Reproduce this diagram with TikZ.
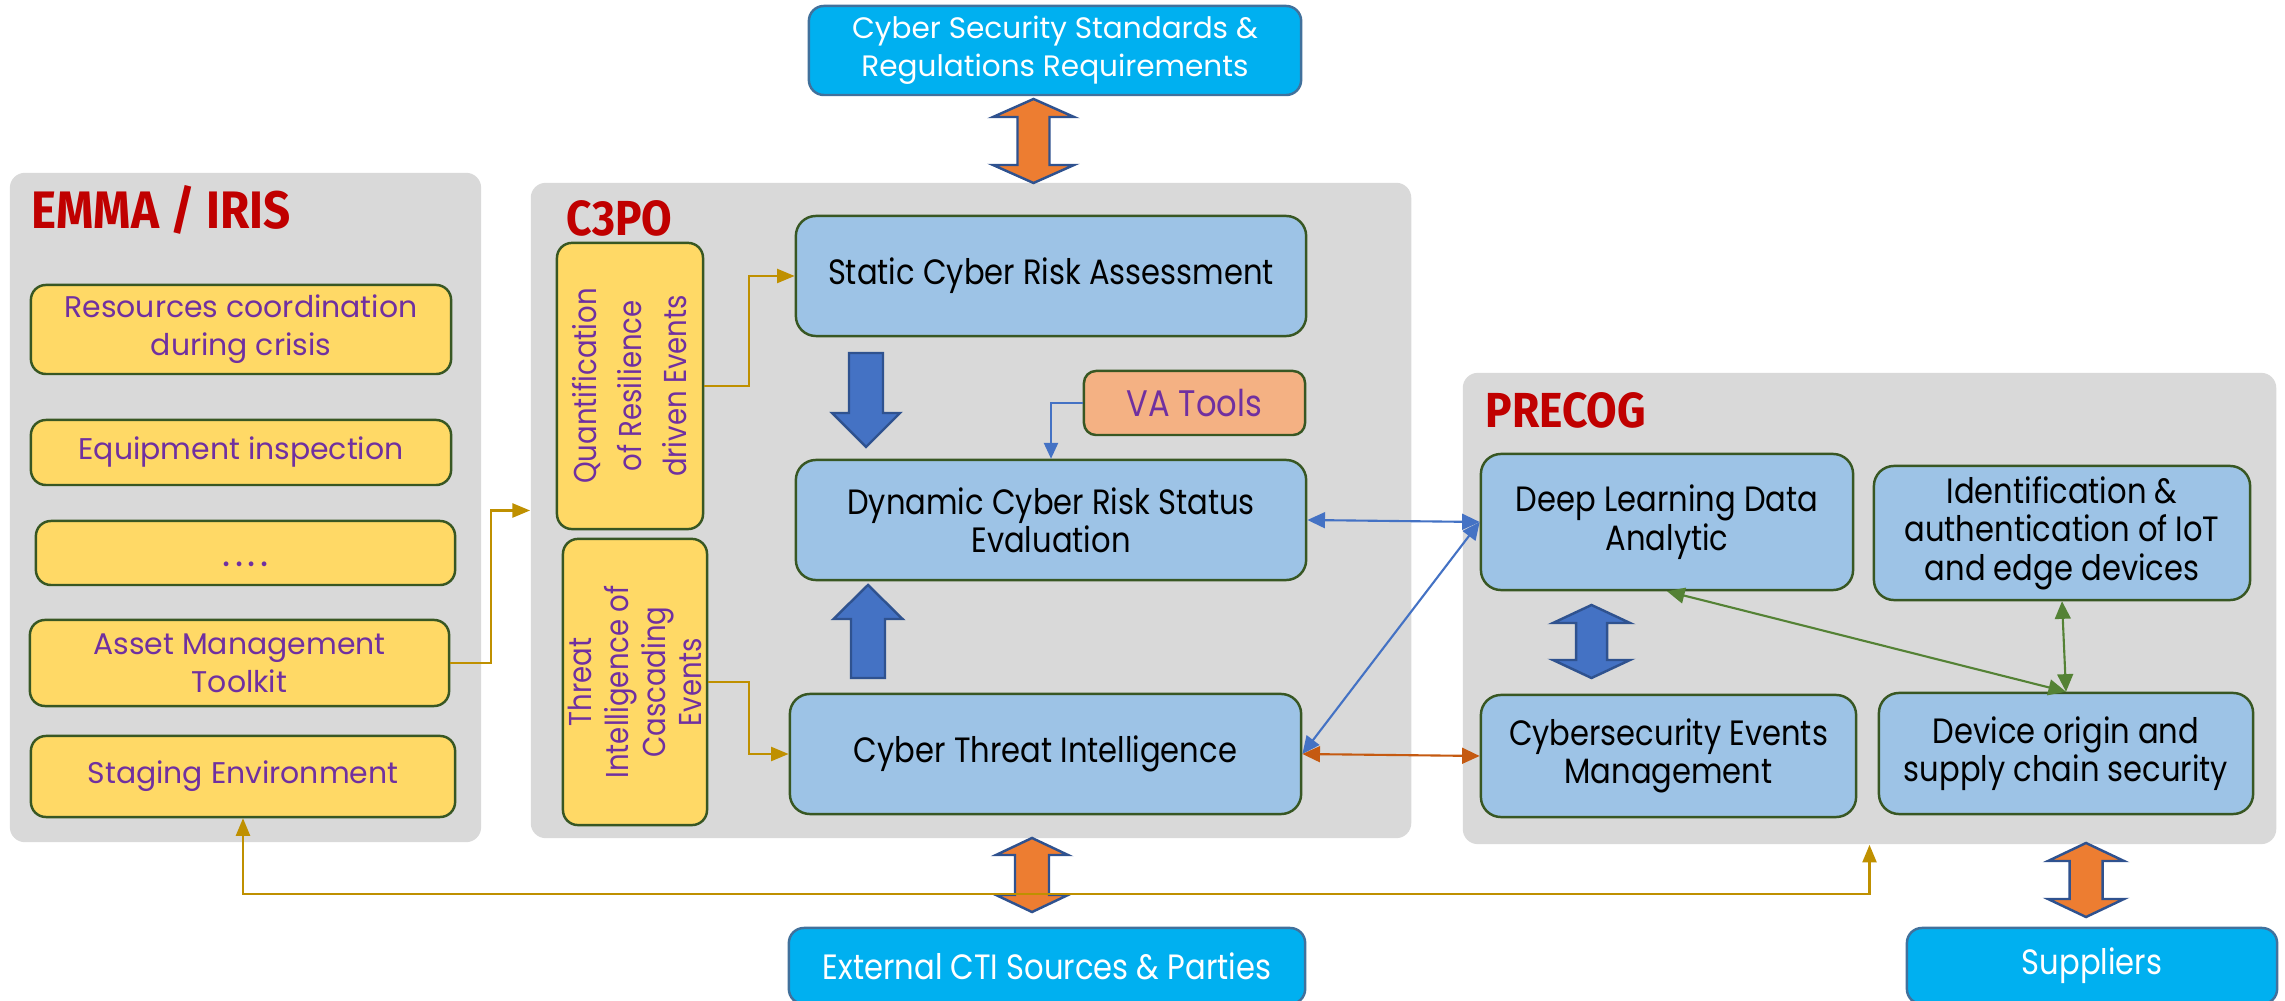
\documentclass[tikz,border=0pt]{standalone}
\usepackage{fontspec}
\setmainfont{Poppins}
\newfontfamily\narrowfont[FakeStretch=0.87]{Poppins}
\newfontfamily\titlefont[FakeStretch=0.9]{Fira Sans}
\usetikzlibrary{arrows.meta}
\definecolor{panelgray}{HTML}{D9D9D9}
\definecolor{boxyellow}{HTML}{FFD966}
\definecolor{boxblue}{HTML}{9DC3E6}
\definecolor{boxorange}{HTML}{F4B183}
\definecolor{boxcyan}{HTML}{00B0F0}
\definecolor{cyanedge}{HTML}{41719C}
\definecolor{boxedge}{HTML}{385723}
\definecolor{txtpurple}{HTML}{7030A0}
\definecolor{titlered}{HTML}{C00000}
\definecolor{blkblue}{HTML}{4472C4}
\definecolor{blkorange}{HTML}{ED7D31}
\definecolor{blkedge}{HTML}{2F528F}
\definecolor{linegold}{HTML}{BF9000}
\definecolor{linered}{HTML}{C55A11}
\definecolor{linegreen}{HTML}{548235}

% vertical double block arrow: x, top, bottom, head half width, shaft half width, head length, fill
\newcommand{\vdblarrow}[7]{%
  \filldraw[fill=#7,draw=blkedge,line width=0.7pt]
    (#1,#2) -- (#1+#4,#2+#6) -- (#1+#5,#2+#6) -- (#1+#5,#3-#6) -- (#1+#4,#3-#6)
    -- (#1,#3) -- (#1-#4,#3-#6) -- (#1-#5,#3-#6) -- (#1-#5,#2+#6) -- (#1-#4,#2+#6) -- cycle;}
% vertical single block arrow: x, tail, head base, tip, head half width, shaft half width
\newcommand{\vblkarrow}[6]{%
  \filldraw[fill=blkblue,draw=blkedge,line width=0.7pt]
    (#1-#6,#2) -- (#1-#6,#3) -- (#1-#5,#3) -- (#1,#4) -- (#1+#5,#3) -- (#1+#6,#3) -- (#1+#6,#2) -- cycle;}

\begin{document}
\begin{tikzpicture}[x=0.01cm,y=-0.01cm,
    panel/.style={fill=panelgray,rounded corners=0.15cm,inner sep=0pt},
    ybox/.style={draw=boxedge,fill=boxyellow,line width=0.7pt,rounded corners=0.15cm,
      text=txtpurple,align=center,inner sep=0pt,font=\fontsize{8.5}{10.8}\selectfont},
    bbox/.style={draw=boxedge,fill=boxblue,line width=0.7pt,rounded corners=0.2cm,
      align=center,inner sep=0pt,font=\narrowfont\fontsize{10}{10.9}\selectfont},
    cbox/.style={draw=cyanedge,fill=boxcyan,line width=0.7pt,rounded corners=0.15cm,
      text=white,align=center,inner sep=0pt},
    vtext/.style={rotate=90,text=txtpurple,align=center,inner sep=0pt,
      font=\narrowfont\fontsize{9}{12.8}\selectfont},
    ttl/.style={anchor=base west,text=titlered,inner sep=0pt,
      font=\titlefont\bfseries\fontsize{14}{14}\selectfont},
    goldline/.style={linegold,line width=0.6pt},
    goldtip/.style={-{Triangle[length=5pt,width=4pt]}},
    dbltip/.style={{Triangle[length=5pt,width=4.5pt]}-{Triangle[length=5pt,width=4.5pt]}},
    blueline/.style={blkblue,line width=0.6pt},
  ]
  \path[use as bounding box] (0,0) rectangle (2285,1001);
  \clip (0,0) rectangle (2285,1001);

  % panels
  \node[panel,minimum width=4.71cm,minimum height=6.69cm] (emma) at (245.5,507.5) {};
  \node[panel,minimum width=8.8cm,minimum height=6.55cm] (c3po) at (971,510.5) {};
  \node[panel,minimum width=8.13cm,minimum height=4.71cm] (precog) at (1869.5,608.5) {};
  \node[ttl,font=\titlefont\bfseries\fontsize{15}{15}\selectfont] (emmattl) at (31,229) {EMMA / IRIS};
  \node[ttl] (c3pottl) at (566,236) {C3PO};
  \node[ttl] (precogttl) at (1485,428) {PRECOG};

  % EMMA / IRIS
  \node[ybox,minimum width=4.2cm,minimum height=0.89cm] (res) at (241,329.5) {Resources coordination\\during crisis};
  \node[ybox,minimum width=4.2cm,minimum height=0.65cm] (equip) at (241,452.5) {Equipment inspection};
  \node[ybox,minimum width=4.19cm,minimum height=0.64cm,font=\fontsize{11}{11}\selectfont] (dots) at (245.5,553)
    {\vphantom{A}.\hspace{0.12em}.\hspace{0.12em}.\hspace{0.12em}.};
  \node[ybox,minimum width=4.19cm,minimum height=0.86cm] (asset) at (239.5,663) {Asset Management\\Toolkit};
  \node[ybox,minimum width=4.24cm,minimum height=0.81cm] (staging) at (243,776.5) {Staging Environment};

  % C3PO
  \node[ybox,minimum width=1.46cm,minimum height=2.86cm] (quant) at (630,386) {};
  \node[vtext] (quanttxt) at (quant.center) {Quantification\\of Resilience\\driven Events};
  \node[ybox,minimum width=1.44cm,minimum height=2.86cm] (threat) at (635,682) {};
  \node[vtext,font=\narrowfont\fontsize{9}{10.5}\selectfont] (threattxt) at (threat.center) {Threat\\Intelligence of\\Cascading\\Events};
  \node[bbox,minimum width=5.1cm,minimum height=1.2cm] (static) at (1051,276) {Static Cyber Risk Assessment};
  \node[bbox,minimum width=5.1cm,minimum height=1.2cm] (dynamic) at (1051,520) {Dynamic Cyber Risk Status\\Evaluation};
  \node[bbox,minimum width=5.11cm,minimum height=1.2cm] (cti) at (1045.5,754) {Cyber Threat Intelligence};
  \node[bbox,fill=boxorange,rounded corners=0.12cm,text=txtpurple,font=\narrowfont\fontsize{10.5}{11}\selectfont,
    minimum width=2.21cm,minimum height=0.64cm] (va) at (1194.5,403) {VA Tools};
  \vblkarrow{866}{353}{413}{447}{34}{17}
  \vblkarrow{868}{678}{619}{585}{34.5}{17}

  % PRECOG
  \node[bbox,minimum width=3.72cm,minimum height=1.36cm] (deep) at (1667,522) {Deep Learning Data\\Analytic};
  \node[bbox,minimum width=3.76cm,minimum height=1.34cm] (ident) at (2062,533) {Identification \&\\authentication of IoT\\and edge devices};
  \node[bbox,minimum width=3.75cm,minimum height=1.22cm] (events) at (1668.5,756) {Cybersecurity Events\\Management};
  \node[bbox,minimum width=3.74cm,minimum height=1.21cm] (device) at (2066,753.5) {Device origin and\\supply chain security};
  \vdblarrow{1591.5}{605}{678}{38.5}{15.5}{18}{blkblue}

  % outside parties
  \node[cbox,minimum width=4.92cm,minimum height=0.89cm,font=\fontsize{8.4}{10.8}\selectfont] (stds) at (1055,50.5)
    {Cyber Security Standards \&\\Regulations Requirements};
  \node[cbox,minimum width=5.16cm,minimum height=0.76cm,font=\narrowfont\fontsize{10}{10}\selectfont] (ext) at (1047,966)
    {External CTI Sources \& Parties};
  \node[cbox,minimum width=3.7cm,minimum height=0.76cm,font=\narrowfont\fontsize{10}{10}\selectfont] (supp) at (2092,966) {Suppliers};
  \vdblarrow{1033.5}{99}{183}{40.5}{16}{18}{blkorange}
  \vdblarrow{1032}{838}{912}{36}{17}{17}{blkorange}
  \vdblarrow{2086}{843}{917}{38}{16.5}{18}{blkorange}

  % connectors
  \draw[goldline,goldtip] (asset.east) -- ++(41,0) |- (c3po.west);
  \draw[goldline,goldtip] (quant.east) -- ++(45,0) |- (static.west);
  \draw[goldline,goldtip] (threat.east) -- ++(41,0) |- (cti.west);
  \draw[goldline,{Triangle[length=5pt,width=4pt]}-{Triangle[length=5pt,width=4pt]}] (staging.south) -- ++(0,76) -| (precog.south);
  \draw[blueline,-{Triangle[length=4.5pt,width=4pt]}] (va.west) -| (dynamic.north);
  \draw[blueline,dbltip] (dynamic.east) -- (deep.west);
  \draw[blueline,dbltip] (cti.east) -- (deep.west);
  \draw[linered,line width=0.6pt,dbltip] (cti.east) -- (events.west);
  \draw[linegreen,line width=0.6pt,dbltip] (deep.south) -- (device.north);
  \draw[linegreen,line width=0.6pt,dbltip] (ident.south) -- (device.north);
\end{tikzpicture}
\end{document}
